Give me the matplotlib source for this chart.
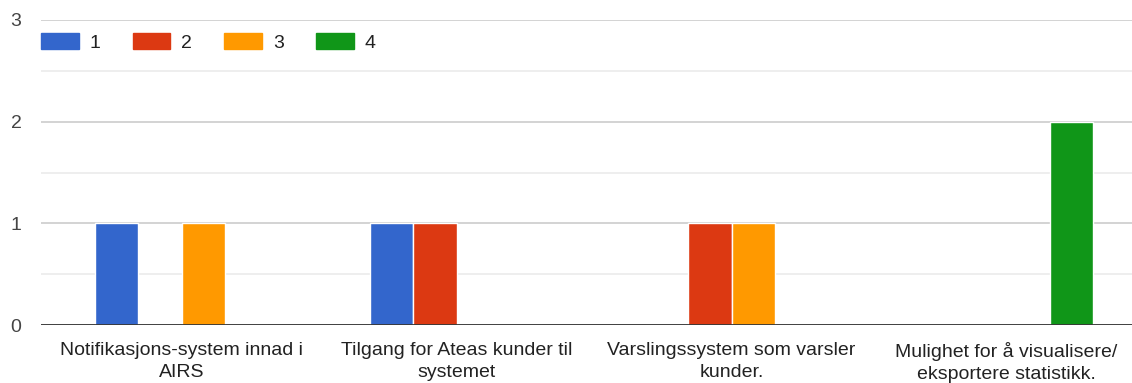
import numpy as np
import matplotlib.pyplot as plt
from matplotlib.patches import Patch

plt.rcParams['font.family'] = ['Liberation Sans', 'DejaVu Sans']

# data
categories = ['Notifikasjons-system innad i\nAIRS',
              'Tilgang for Ateas kunder til\nsystemet',
              'Varslingssystem som varsler\nkunder.',
              'Mulighet for å visualisere/\neksportere statistikk.']
series_names = ['1', '2', '3', '4']
values = {
    '1': [1, 1, 0, 0],
    '2': [0, 1, 1, 0],
    '3': [1, 0, 1, 0],
    '4': [0, 0, 0, 2],
}
colors = ['#3366cc', '#dc3912', '#ff9900', '#109618']

fig = plt.figure(figsize=(11.32, 3.83), dpi=100)
ax = fig.add_axes([0.0362, 0.1514, 0.9638, 0.7964])

x = np.arange(len(categories))
w = 0.157
for i, name in enumerate(series_names):
    ax.bar(x + (i - 1.5) * w, values[name], width=w, color=colors[i],
           edgecolor='white', linewidth=1.0, zorder=3)

ax.set_xlim(-0.511, 3.456)
ax.set_ylim(0, 3)
ax.set_yticks([0, 1, 2, 3])
ax.set_yticks([0.5, 1.5, 2.5], minor=True)
ax.grid(axis='y', which='major', color='#cccccc', linewidth=1.2, zorder=0)
ax.grid(axis='y', which='minor', color='#ebebeb', linewidth=1.2, zorder=0)
ax.axhline(0, color='#333333', linewidth=2, zorder=4)

ax.set_xticks(x)
ax.set_xticklabels(categories, fontsize=14, color='#222222', linespacing=1.4)
ax.tick_params(axis='x', length=0, pad=12)
ax.tick_params(axis='y', which='both', length=0, labelsize=14,
               labelcolor='#444444', pad=14)
for s in ax.spines.values():
    s.set_visible(False)

handles = [Patch(facecolor=c, edgecolor=c) for c in colors]
ax.legend(handles, series_names, loc='center left', bbox_to_anchor=(0, 0.926),
          ncol=4, frameon=False, fontsize=14, handlelength=1.95,
          handleheight=0.85, handletextpad=0.55, columnspacing=1.65,
          borderaxespad=0, borderpad=0, labelcolor='#222222')

fig.savefig('out.png', dpi=100)
